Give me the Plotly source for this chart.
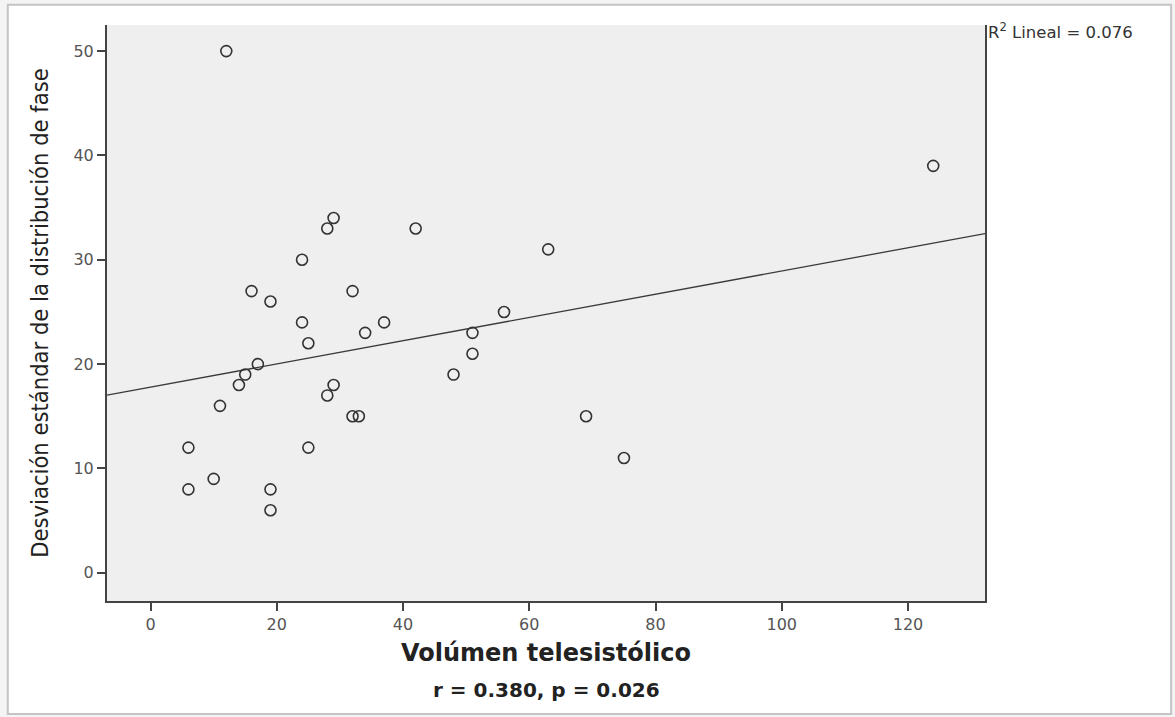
import numpy as np
import plotly.graph_objects as go

# Data
volumen = [12, 124, 29, 28, 42, 24, 63, 16, 32, 19, 56, 24, 37, 34, 51, 25, 51,
           17, 15, 48, 14, 29, 28, 11, 32, 33, 69, 6, 25, 75, 10, 6, 19, 19]
desviacion = [50, 39, 34, 33, 33, 30, 31, 27, 27, 26, 25, 24, 24, 23, 23, 22, 21,
              20, 19, 19, 18, 18, 17, 16, 15, 15, 15, 12, 12, 11, 9, 8, 8, 6]
x_ticks = [0, 20, 40, 60, 80, 100, 120]
y_ticks = [0, 10, 20, 30, 40, 50]
x_range = [-6.9, 132.2]
y_range = [-2.7, 52.5]

slope, intercept = np.polyfit(volumen, desviacion, 1)
line_x = np.array(x_range)
line_y = intercept + slope * line_x

fig = go.Figure()
fig.add_trace(go.Scatter(x=line_x, y=line_y, mode="lines",
                         line=dict(color="#3a3a3a", width=1.3),
                         hoverinfo="skip", showlegend=False))
fig.add_trace(go.Scatter(x=volumen, y=desviacion, mode="markers",
                         marker=dict(symbol="circle-open", size=11,
                                     color="#333333", line=dict(width=1.6)),
                         showlegend=False))

tick_font = dict(family="DejaVu Sans", size=16, color="#555555")

fig.update_xaxes(range=x_range, tickvals=x_ticks, showgrid=False, zeroline=False,
                 showline=True, linecolor="#444444", linewidth=2,
                 ticks="outside", ticklen=8, tickcolor="#444444", tickwidth=1.5,
                 tickfont=tick_font,
                 title=dict(text="<b>Volúmen telesistólico</b>",
                            font=dict(family="DejaVu Sans", size=24, color="#222222"),
                            standoff=11))
fig.update_yaxes(range=y_range, tickvals=y_ticks, showgrid=False, zeroline=False,
                 showline=True, linecolor="#444444", linewidth=2, mirror=True,
                 ticks="outside", ticklen=8, tickcolor="#444444", tickwidth=1.5,
                 tickfont=tick_font,
                 title=dict(text="Desviación estándar de la distribución de fase",
                            font=dict(family="Liberation Sans Narrow, DejaVu Sans Condensed, sans-serif",
                                      size=23.5, color="#222222"),
                            standoff=18))

# White card with subtle shadow
fig.add_shape(type="rect", xref="paper", yref="paper",
              x0=-0.113, x1=1.212, y0=-0.196, y1=1.035,
              fillcolor="white", line=dict(color="#c4c4c4", width=2), layer="below")
# Grey plotting area
fig.add_shape(type="rect", xref="paper", yref="paper",
              x0=0, x1=1, y0=0, y1=1,
              fillcolor="#efefef", line=dict(width=0), layer="below")

fig.add_annotation(xref="paper", yref="paper", x=1.001, y=1.012, xanchor="left", yanchor="top",
                   text="R<sup>2</sup> Lineal = 0.076", showarrow=False,
                   font=dict(family="DejaVu Sans", size=16.5, color="#333333"))
fig.add_annotation(xref="paper", yref="paper", x=0.5, y=-0.155, xanchor="center", yanchor="middle",
                   text="<b>r = 0.380, p = 0.026</b>", showarrow=False,
                   font=dict(family="DejaVu Sans", size=20, color="#222222"))

fig.update_layout(width=1175, height=717,
                  margin=dict(l=107, r=190, t=25, b=116),
                  paper_bgcolor="#f4f4f4", plot_bgcolor="#efefef",
                  showlegend=False)

fig.write_html("out.html", config={"displayModeBar": False},
               post_script="document.body.style.margin='0';document.body.style.overflow='hidden';")
